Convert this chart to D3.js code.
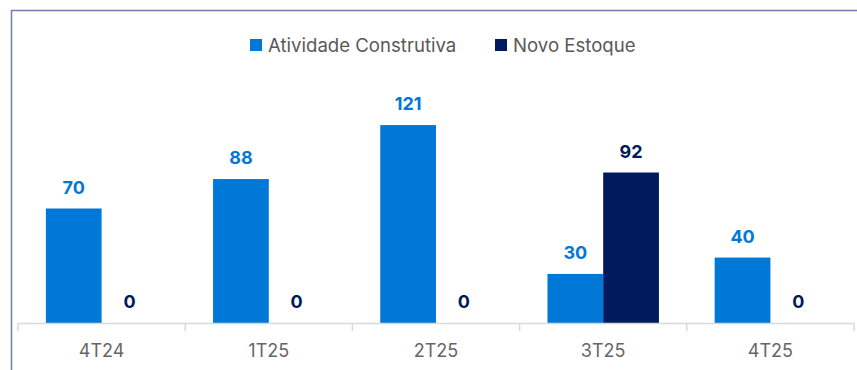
<!DOCTYPE html>
<html>
<head>
<meta charset="utf-8">
<script src="https://cdn.jsdelivr.net/npm/d3@7"></script>
<style>
  html, body { margin: 0; padding: 0; background: #fff; }
  svg { display: block; font-family: Inter, "Noto Sans", sans-serif; }
</style>
</head>
<body>
<svg id="chart" width="857" height="370"></svg>
<script>
// Quarterly data
const categories = ["4T24", "1T25", "2T25", "3T25", "4T25"];
const seriesNames = ["Atividade Construtiva", "Novo Estoque"];
const atividade = [70, 88, 121, 30, 40];
const novoEstoque = [0, 0, 0, 92, 0];
const colors = ["#0078D7", "#001A5E"];

const svg = d3.select("#chart");
const W = 857, H = 370;

// Frame: top and left border
svg.append("path")
  .attr("d", `M11.5,${H} V10.5 H${W}`)
  .attr("fill", "none")
  .attr("stroke", "#7080A8")
  .attr("stroke-width", 1.5);

const baseY = 323;
const x0 = d3.scaleBand().domain(categories).range([18, 854]).paddingInner(0).paddingOuter(0);
const x1 = d3.scaleBand().domain(seriesNames).range([0, x0.bandwidth()]).paddingOuter(0.5).paddingInner(0);
const y = d3.scaleLinear().domain([0, 140]).range([baseY, baseY - 229]);

const rows = categories.map((c, i) => ({
  cat: c,
  vals: [atividade[i], novoEstoque[i]]
}));

const g = svg.append("g");

rows.forEach(r => {
  r.vals.forEach((v, k) => {
    const xb = x0(r.cat) + x1(seriesNames[k]);
    g.append("rect")
      .attr("x", xb)
      .attr("y", y(v))
      .attr("width", x1.bandwidth())
      .attr("height", baseY - y(v))
      .attr("fill", colors[k]);
    g.append("text")
      .attr("x", xb + x1.bandwidth() / 2)
      .attr("y", y(v) - 15)
      .attr("text-anchor", "middle")
      .attr("font-size", 18)
      .attr("font-weight", 700)
      .attr("fill", colors[k])
      .text(v);
  });
});

// Category axis
const axis = d3.axisBottom(x0).tickSize(0).tickPadding(0);
const ax = svg.append("g").attr("transform", `translate(0,${baseY})`).call(axis);
ax.select(".domain").attr("stroke", "#D9D9D9").attr("stroke-width", 1.5);
ax.selectAll(".tick text")
  .attr("y", 21)
  .attr("font-size", 18)
  .attr("font-family", "Inter, 'Noto Sans', sans-serif")
  .attr("fill", "#666666");
// Category separators
const bounds = categories.map(c => x0(c)).concat([x0.range()[1]]);
svg.append("g").selectAll("line").data(bounds).join("line")
  .attr("x1", d => d).attr("x2", d => d)
  .attr("y1", baseY).attr("y2", baseY + 8)
  .attr("stroke", "#D9D9D9").attr("stroke-width", 1.5);

// Legend
const legendItems = [
  { name: seriesNames[0], color: colors[0], x: 250 },
  { name: seriesNames[1], color: colors[1], x: 495 }
];
const lg = svg.append("g");
legendItems.forEach(it => {
  lg.append("rect").attr("x", it.x).attr("y", 39).attr("width", 12).attr("height", 12).attr("fill", it.color);
  lg.append("text").attr("x", it.x + 18).attr("y", 51.5)
    .attr("font-size", 18.6).attr("fill", "#595959").text(it.name);
});
</script>
</body>
</html>
